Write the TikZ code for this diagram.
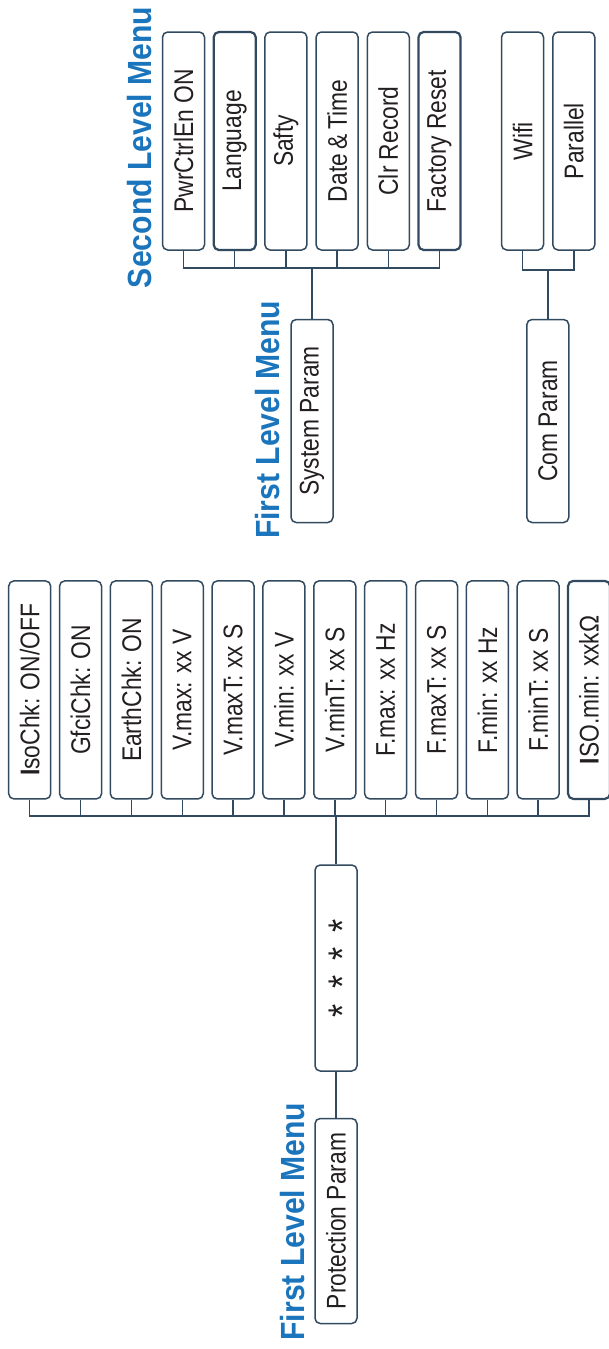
\documentclass[tikz,border=0pt]{standalone}
\usepackage{fontspec}
\setmainfont{Liberation Sans}
\newfontfamily\boxfont{Liberation Sans}[FakeStretch=0.845]
\newfontfamily\titlefont{Liberation Sans}[FakeStretch=0.9]
\usepackage{graphicx}
\definecolor{boxline}{RGB}{50,74,96}
\definecolor{menublue}{RGB}{27,117,188}
\definecolor{boxtext}{RGB}{35,31,32}
\tikzset{
    menubox/.style={draw=boxline, line width=0.75pt, rounded corners=2.6pt, minimum width=21pt, inner sep=0pt, text=boxtext, font=\boxfont\fontsize{13.5}{15}\selectfont},
    menutitle/.style={rotate=90, text=menublue, inner sep=0pt, font=\titlefont\bfseries\fontsize{16.75}{19}\selectfont},
    link/.style={draw=boxline, line width=0.75pt},
}
\begin{document}
\begin{tikzpicture}[x=0.5pt,y=-0.5pt]
    \useasboundingbox (0,0) rectangle (609,1349);
    %titoli
    \node[menutitle] (title2) at (140,147.3) {Second Level Menu};
    \node[menutitle] (title1a) at (267.5,420) {First Level Menu};
    \node[menutitle] (title1b) at (292.2,1221.5) {First Level Menu};
    %secondo livello
    \foreach \lab/\lw [count=\i from 0] in {PwrCtrlEn ON/0.75, Language/1.1, Safty/0.75, Date\,\&\,Time/0.75, Clr Record/0.75, Factory Reset/1.1} {
        \node[menubox, line width=\lw pt, minimum height=109pt] (s\i) at (183.5+51.2*\i,141) {\rotatebox{90}{\lab}};
    }
    \node[menubox, minimum height=109pt] (wifi) at (522.5,141) {\rotatebox{90}{Wifi}};
    \node[menubox, minimum height=109pt] (par) at (573.8,141) {\rotatebox{90}{Parallel}};
    %primo livello
    \node[menubox, minimum height=101.5pt] (sys) at (312,421) {\rotatebox{90}{System Param}};
    \node[menubox, minimum height=101.5pt] (com) at (547.8,421) {\rotatebox{90}{Com Param}};
    %parametri di protezione
    \foreach \lab/\lw [count=\i from 0] in {{\textbf{I}soChk: ON/OFF}/0.75, GfciChk: ON/0.75, EarthChk: ON/0.75, V.max: xx V/0.75, V.maxT: xx S/0.75, V.min: xx V/0.75, V.minT: xx S/0.75, F.max: xx Hz/0.75, F.maxT: xx S/0.75, F.min: xx Hz/0.75, F.minT: xx S/0.75, {\textbf{I}SO.min: xxkΩ}/1.1} {
        \node[menubox, line width=\lw pt, minimum height=109pt] (p\i) at (29.7+50.85*\i,689.9) {\rotatebox{90}{\lab}};
    }
    \node[menubox, minimum height=103pt] (stars) at (336,968) {\rotatebox{90}{\fontsize{20}{20}\selectfont\rule{0pt}{20.7pt}*\hspace{7.6pt}*\hspace{7.6pt}*\hspace{7.6pt}*}};
    \node[menubox, minimum height=102.5pt] (prot) at (336,1221) {\rotatebox{90}{Protection Param}};
    %collegamenti
    \coordinate (sbus) at (0,268);
    \coordinate (cbus) at (0,270);
    \coordinate (pbus) at (0,816);
    \draw[link] (s0.south) -- (s0.south |- sbus) -- (s5.south |- sbus) -- (s5.south);
    \foreach \i in {1,...,4} { \draw[link] (s\i.south) -- (s\i.south |- sbus); }
    \draw[link] (sys.north) -- (sys.north |- sbus);
    \draw[link] (wifi.south) -- (wifi.south |- cbus) -- (par.south |- cbus) -- (par.south);
    \draw[link] (com.north) -- (com.north |- cbus);
    \draw[link] (p0.south) -- (p0.south |- pbus) -- (p11.south |- pbus) -- (p11.south);
    \foreach \i in {1,...,10} { \draw[link] (p\i.south) -- (p\i.south |- pbus); }
    \draw[link] (stars.north) -- (stars.north |- pbus);
    \draw[link] (stars.south) -- (prot.north);
\end{tikzpicture}
\end{document}
